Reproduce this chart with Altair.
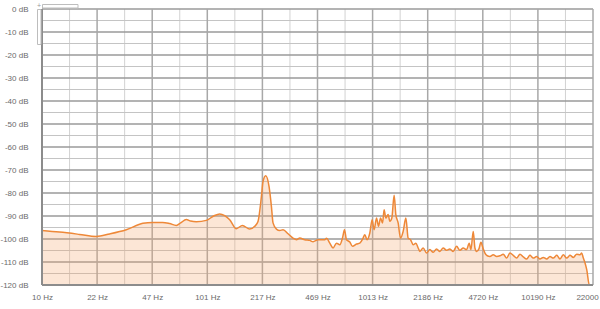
import altair as alt
import pandas as pd

# Spectrum values (frequency in Hz, level in dB)
freq_hz = [
    10, 12.77, 16.89, 21.33, 25.70, 32.45, 40.94, 46.88, 53.92, 59.45,
    65.30, 69.34, 75.07, 79.71, 86.35, 99.31, 110.0, 119.6, 128.3, 137.6,
    151.1, 164.3, 181.9, 195.1, 204.3, 214.3, 219.1, 227.5, 238.3, 246.4,
    252.0, 264.3, 276.8, 289.9, 310.9, 333.4, 349.6, 366.1, 392.6, 421.0,
    440.9, 472.8, 519.3, 531.8, 556.8, 583.1, 611.5, 640.4, 665.0, 683.9,
    703.3, 736.5, 764.7, 808.7, 847.0, 887.0, 908.3, 938.0, 974.1, 1005.8,
    1034.4, 1069.8, 1100.0, 1131.3, 1163.3, 1189.6, 1218.1, 1258.0, 1288.2, 1324.8,
    1368.0, 1400.9, 1446.7, 1496.2, 1551.6, 1611.3, 1663.8, 1720.7, 1784.4, 1853.1,
    1913.8, 1959.7, 2052.1, 2152.2, 2253.7, 2360.0, 2475.2, 2591.7, 2714.2, 2846.1,
    2980.3, 3121.2, 3273.4, 3428.3, 3590.7, 3765.1, 3904.6, 3999.2, 4129.3, 4228.4,
    4330.9, 4471.8, 4598.9, 4748.4, 4863.5, 5021.7, 5214.9, 5461.5, 5726.7, 5996.8,
    6280.5, 6586.0, 6898.0, 7223.3, 7573.9, 7933.0, 8307.1, 8711.1, 9123.9, 9554.0,
    10018, 10491, 10987, 11522, 12065, 12636, 13253, 13875, 14533, 15240,
    15958, 16715, 17523, 18353, 18793, 19218, 19683, 20156, 20903, 22000,
]
level_db = [
    -96.3, -97.0, -98.0, -98.9, -97.8, -96.0, -93.2, -92.8, -92.8, -93.3,
    -94.1, -93.0, -91.5, -92.2, -92.5, -91.9, -90.0, -89.1, -89.8, -91.6,
    -95.5, -94.1, -95.7, -94.5, -92.4, -81.5, -75.0, -72.5, -77.1, -85.8,
    -93.0, -95.7, -96.3, -96.0, -97.7, -99.6, -100.3, -99.6, -100.3, -100.6,
    -101.2, -100.3, -100.3, -99.7, -101.8, -103.9, -101.8, -102.5, -99.6, -96.0,
    -100.3, -101.3, -103.2, -102.2, -101.8, -99.6, -98.1, -100.3, -97.4, -91.6,
    -96.0, -90.9, -94.5, -90.9, -93.0, -87.3, -90.9, -89.4, -92.3, -90.9,
    -81.0, -89.4, -93.0, -99.6, -96.7, -90.9, -99.6, -100.3, -102.5, -101.8,
    -103.9, -105.4, -103.9, -106.1, -104.6, -105.8, -104.3, -105.4, -103.9, -104.9,
    -104.3, -105.4, -103.2, -104.9, -103.9, -104.6, -101.8, -104.6, -96.7, -103.9,
    -105.4, -104.3, -101.4, -104.3, -106.1, -107.3, -107.6, -106.9, -107.6, -107.3,
    -106.6, -108.3, -106.1, -107.1, -108.3, -106.6, -107.8, -108.7, -107.1, -108.3,
    -107.6, -108.7, -108.0, -108.7, -107.6, -108.3, -107.1, -108.7, -106.9, -108.3,
    -107.1, -108.0, -106.6, -106.9, -106.1, -108.3, -110.4, -113.3, -120.0, -120.0,
]

# Axis ticks: geometric steps between 10 Hz and 22000 Hz
major_hz = [10 * 2200 ** (k / 10) for k in range(11)]
minor_hz = [10 * 2200 ** ((2 * k + 1) / 20) for k in range(10)]
major_db = list(range(0, -121, -10))
minor_db = list(range(-5, -116, -10))

df = pd.DataFrame({"freq": freq_hz, "db": level_db})

FONT = "Liberation Sans"
x_scale = alt.Scale(type="log", domain=[10, 22000], nice=False)
y_scale = alt.Scale(domain=[-120, 0], nice=False, zero=False)

x_axis = alt.Axis(
    values=major_hz,
    labelExpr="round(datum.value) + ' Hz'",
    grid=False, ticks=False, domain=False,
    labelFlush=False, labelOverlap=False,
    labelFont=FONT, labelFontSize=8, labelColor="#6a6a6a",
    labelPadding=8, title=None,
)
y_axis = alt.Axis(
    values=major_db,
    labelExpr="datum.value + ' dB'",
    grid=False, ticks=False, domain=False,
    labelFont=FONT, labelFontSize=8, labelColor="#6a6a6a",
    labelPadding=14, title=None,
)

def X(field):
    return alt.X(field, scale=x_scale, axis=x_axis)

def Y(field):
    return alt.Y(field, scale=y_scale, axis=y_axis)

minor_v = alt.Chart(pd.DataFrame({"f": minor_hz})).mark_rule(
    color="#d2d2d2", strokeWidth=1
).encode(x=X("f:Q"))
major_v = alt.Chart(pd.DataFrame({"f": major_hz})).mark_rule(
    color="#a8a8a8", strokeWidth=1.5
).encode(x=X("f:Q"))
minor_h = alt.Chart(pd.DataFrame({"d": minor_db})).mark_rule(
    color="#c4c4c4", strokeWidth=1
).encode(y=Y("d:Q"))
major_h = alt.Chart(pd.DataFrame({"d": major_db})).mark_rule(
    color="#9a9a9a", strokeWidth=1.5
).encode(y=Y("d:Q"))

area = alt.Chart(df).mark_area(
    color="#f6a46a", opacity=0.28, interpolate="monotone"
).encode(x=X("freq:Q"), y=Y("db:Q"), y2=alt.datum(-120))

line = alt.Chart(df).mark_line(
    color="#ee8838", strokeWidth=1.5, interpolate="monotone"
).encode(x=X("freq:Q"), y=Y("db:Q"))

frame_left = alt.Chart(pd.DataFrame({"f": [10]})).mark_rule(
    color="#8c8c8c", strokeWidth=2
).encode(x=X("f:Q"))
frame_bottom = alt.Chart(pd.DataFrame({"d": [-120]})).mark_rule(
    color="#8c8c8c", strokeWidth=2
).encode(y=Y("d:Q"))

# small zoom-control boxes at top-left corner
one = pd.DataFrame({"a": [0]})
hbox = alt.Chart(one).mark_rect(fill="white", stroke="#bdbdbd", strokeWidth=1).encode(
    x=alt.value(0.5), x2=alt.value(36), y=alt.value(-4.5), y2=alt.value(-1)
)
vbox = alt.Chart(one).mark_rect(fill="white", stroke="#bdbdbd", strokeWidth=1).encode(
    x=alt.value(-4.5), x2=alt.value(-1), y=alt.value(0.5), y2=alt.value(35.5)
)
plus = alt.Chart(one).mark_text(text="+", fontSize=7, color="#999", font=FONT).encode(
    x=alt.value(-3), y=alt.value(-3)
)

chart = alt.layer(
    minor_v, minor_h, major_h, major_v, area, line, frame_left, frame_bottom,
    hbox, vbox, plus,
).properties(
    width=551,
    height=276,
    padding={"left": 42, "top": 9, "right": 7, "bottom": 24},
    autosize=alt.AutoSizeParams(type="none"),
    background="white",
).configure_view(stroke=None)

chart.save("out.html", embed_options={"renderer": "svg", "actions": False})
